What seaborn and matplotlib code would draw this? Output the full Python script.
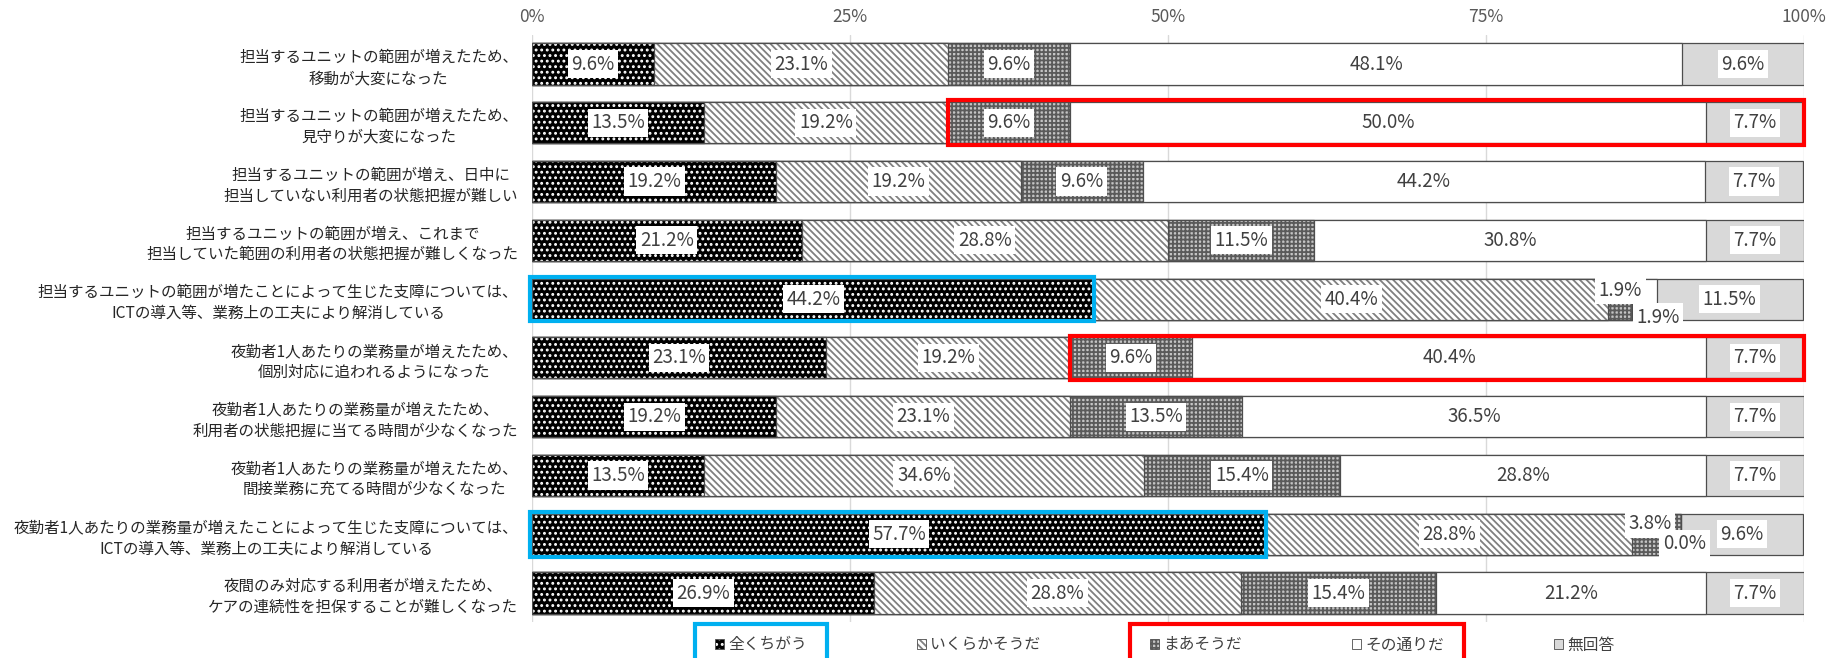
import numpy as np
import pandas as pd
import matplotlib
matplotlib.use("Agg")
import matplotlib.pyplot as plt
import seaborn as sns
from matplotlib.patches import Rectangle, Patch
from matplotlib.colors import to_rgba
from matplotlib.transforms import Bbox

# %% data
items = [
    "担当するユニットの範囲が増えたため、\n移動が大変になった",
    "担当するユニットの範囲が増えたため、\n見守りが大変になった",
    "担当するユニットの範囲が増え、日中に\n担当していない利用者の状態把握が難しい",
    "担当するユニットの範囲が増え、これまで\n担当していた範囲の利用者の状態把握が難しくなった",
    "担当するユニットの範囲が増たことによって生じた支障については、\nICTの導入等、業務上の工夫により解消している",
    "夜勤者1人あたりの業務量が増えたため、\n個別対応に追われるようになった",
    "夜勤者1人あたりの業務量が増えたため、\n利用者の状態把握に当てる時間が少なくなった",
    "夜勤者1人あたりの業務量が増えたため、\n間接業務に充てる時間が少なくなった",
    "夜勤者1人あたりの業務量が増えたことによって生じた支障については、\nICTの導入等、業務上の工夫により解消している",
    "夜間のみ対応する利用者が増えたため、\nケアの連続性を担保することが難しくなった",
]
answers = ["全くちがう", "いくらかそうだ", "まあそうだ", "その通りだ", "無回答"]
zen_chigau = [9.6, 13.5, 19.2, 21.2, 44.2, 23.1, 19.2, 13.5, 57.7, 26.9]
ikuraka = [23.1, 19.2, 19.2, 28.8, 40.4, 19.2, 23.1, 34.6, 28.8, 28.8]
maa = [9.6, 9.6, 9.6, 11.5, 1.9, 9.6, 13.5, 15.4, 3.8, 15.4]
sono_toori = [48.1, 50.0, 44.2, 30.8, 1.9, 40.4, 36.5, 28.8, 0.0, 21.2]
mukaitou = [9.6, 7.7, 7.7, 7.7, 11.5, 7.7, 7.7, 7.7, 9.6, 7.7]

series = [zen_chigau, ikuraka, maa, sono_toori, mukaitou]
styles = [
    dict(fc="black", hatch="...", hc="white"),
    dict(fc="white", hatch="\\\\\\\\\\", hc="#808080"),
    dict(fc="#c4c4c4", hatch="++++", hc="#5a5a5a"),
    dict(fc="white", hatch=None, hc="#404040"),
    dict(fc="#d9d9d9", hatch=None, hc="#404040"),
]

# %% plot
sns.set_style("white")
plt.rcParams["font.family"] = ["Noto Sans CJK JP", "DejaVu Sans"]
plt.rcParams["hatch.linewidth"] = 1.3

fig = plt.figure(figsize=(18.31, 6.58), dpi=100)
ax = fig.add_axes([0.2906, 0.0541, 0.6947, 0.8933])

vals = np.array(series)
cum = vals.cumsum(axis=0)
left = cum - vals

for k in range(len(answers) - 1, -1, -1):
    df = pd.DataFrame({"item": items, "cum": cum[k]})
    n0 = len(ax.patches)
    sns.barplot(data=df, x="cum", y="item", orient="h", order=items,
                color=styles[k]["fc"], saturation=1, width=0.7, ax=ax)
    for p in ax.patches[n0:]:
        p.set_facecolor(styles[k]["fc"])
        p.set_edgecolor("#4d4d4d")
        p.set_linewidth(0.9)
        if styles[k]["hatch"]:
            p.set_hatch(styles[k]["hatch"])
            p._hatch_color = to_rgba(styles[k]["hc"])

# value labels
offsets = {(4, 2): (0.0, -0.15), (4, 3): (1.05, 0.31),
           (8, 2): (-0.5, -0.18), (8, 3): (0.3, 0.16)}
for k in range(len(answers)):
    for i in range(len(items)):
        dx, dy = offsets.get((i, k), (0, 0))
        ax.text(left[k, i] + vals[k, i] / 2 + dx, i + dy, f"{vals[k, i]:.1f}%",
                ha="center", va="center", fontsize=13.5, color="#404040",
                bbox=dict(fc="white", ec="none", pad=2.5), zorder=5)

ax.set_xlim(0, 100)
ax.set_ylim(9.5, -0.5)
ax.set_xticks([0, 25, 50, 75, 100])
ax.set_xticklabels(["0%", "25%", "50%", "75%", "100%"], fontsize=12.5, color="#595959")
ax.xaxis.tick_top()
ax.set_yticks(range(len(items)))
ax.set_yticklabels(items, fontsize=11.2, color="#262626", multialignment="center",
                   linespacing=1.3)
ax.tick_params(axis="both", length=0)
ax.tick_params(axis="y", pad=10)
ax.tick_params(axis="x", pad=6)
ax.set_xlabel("")
ax.set_ylabel("")
ax.grid(axis="x", color="#d9d9d9", linewidth=1)
ax.set_axisbelow(True)
for s in ax.spines.values():
    s.set_visible(False)

# highlight boxes on rows
blue = "#00b0f0"
red = "#ff0000"
for i in [4, 8]:
    ax.add_patch(Rectangle((-0.15, i - 0.38), left[1, i] + 0.15, 0.76, fill=False,
                           ec=blue, lw=3, clip_on=False, zorder=6))
for i in [1, 5]:
    ax.add_patch(Rectangle((left[2, i], i - 0.38), 100 - left[2, i], 0.76, fill=False,
                           ec=red, lw=3, clip_on=False, zorder=6))

# legend
handles = []
for k, name in enumerate(answers):
    h = Patch(facecolor=styles[k]["fc"], edgecolor="#4d4d4d", linewidth=0.6,
              hatch=styles[k]["hatch"], label=name)
    handles.append(h)
leg = fig.legend(handles=handles, loc="center", bbox_to_anchor=(0.636, 0.02),
                 ncol=5, frameon=False, fontsize=11.3, handlelength=0.6,
                 handleheight=0.6, handletextpad=0.25, columnspacing=7.0,
                 labelcolor="#404040")
for k, h in enumerate(leg.legend_handles):
    if styles[k]["hatch"]:
        h._hatch_color = to_rgba(styles[k]["hc"])

fig.canvas.draw()
r = fig.canvas.get_renderer()


def entry_box(idxs, padx=20, pady=21):
    boxes = []
    for i in idxs:
        boxes.append(leg.get_texts()[i].get_window_extent(r))
        boxes.append(leg.legend_handles[i].get_window_extent(r))
    b = Bbox.union(boxes)
    cy = (b.y0 + b.y1) / 2
    bb = Bbox([[b.x0 - padx, cy - 2 * pady], [b.x1 + padx, cy + pady]])
    return bb.transformed(fig.transFigure.inverted())


for idxs, col in [([0], blue), ([2, 3], red)]:
    bb = entry_box(idxs)
    fig.patches.append(Rectangle((bb.x0, bb.y0), bb.width, bb.height, fill=False,
                                 ec=col, lw=3, transform=fig.transFigure, figure=fig))

fig.savefig("out.png", dpi=100)
